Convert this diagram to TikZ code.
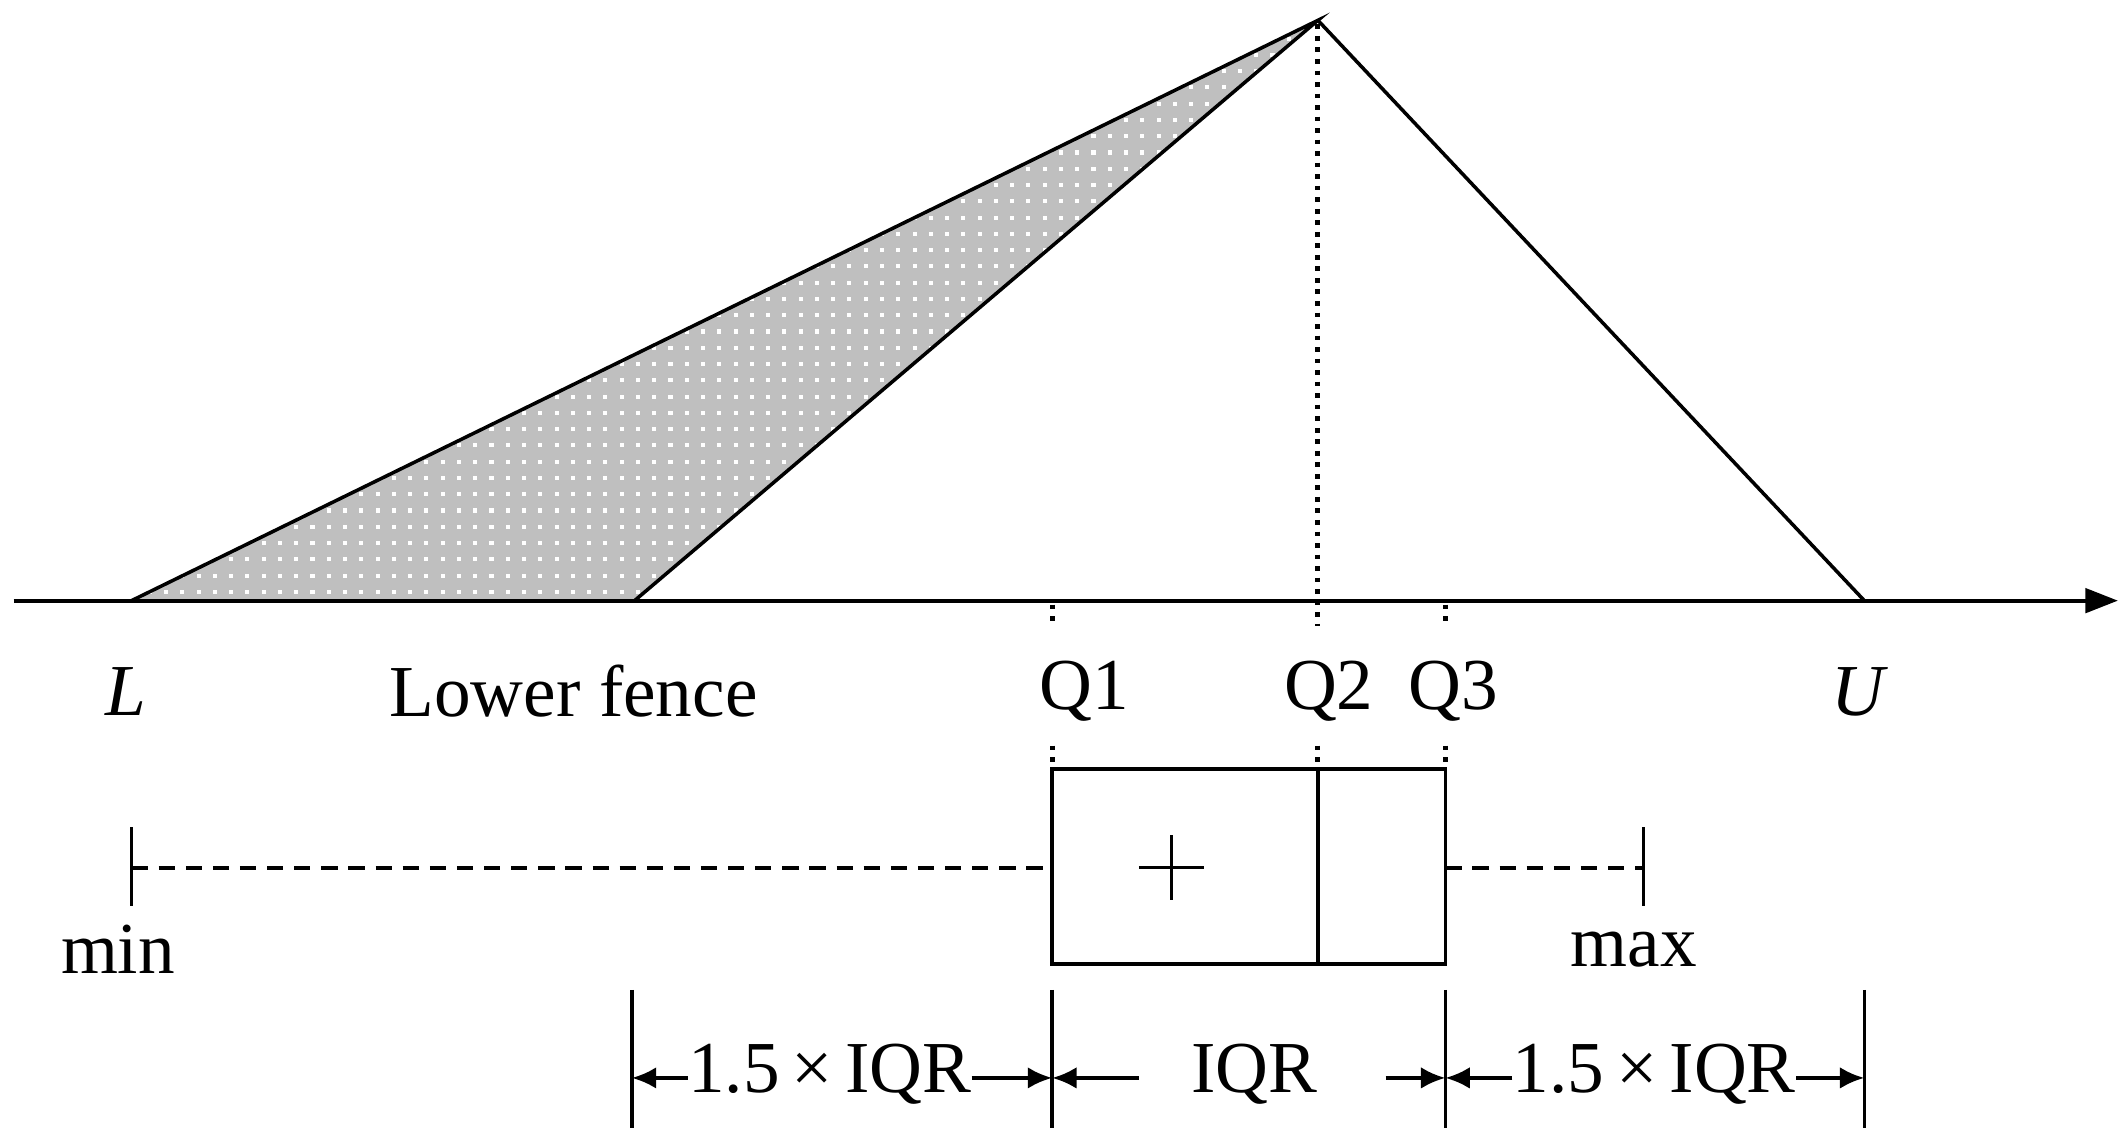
\documentclass[tikz,border=0pt]{standalone}
\usepackage{fontspec}
\setmainfont{Liberation Serif}
\usetikzlibrary{arrows.meta}
\begin{document}
\begin{tikzpicture}[x=1pt,y=-1pt,
  ln/.style={line width=2.6pt},
  lbl/.style={font=\fontsize{54}{58}\selectfont, inner sep=0pt},
  dimarr/.style={line width=2.8pt,-{Latex[length=18pt,width=16pt]}},
  dots/.style={line width=3.6pt,dash pattern=on 3.5pt off 5pt}]
\useasboundingbox (0,0) rectangle (1568,845);
\coordinate (L) at (97,443); \coordinate (F) at (468,443);
\coordinate (P) at (972,15); \coordinate (U) at (1375,443);
\begin{scope}
\clip (L)--(P)--(F)--cycle;
\fill[gray!50] (L)--(P)--(F)--cycle;
\foreach \i in {0,...,74} \foreach \j in {0,...,36}
  \fill[white] (97+\i*12,15+\j*12) rectangle ++(3,3);
\end{scope}
\draw[ln] (L)--(P)--(F); \draw[ln] (P)--(U);
\coordinate (A0) at (10,443); \coordinate (A1) at (1562,443);
\draw[line width=2.8pt,-{Triangle[length=24pt,width=18pt]}] (A0)--(A1);
\draw[dots] (972,18)--(972,462);
\draw[dots] (776,446)--(776,462); \draw[dots] (1066,446)--(1066,462);
\foreach \x in {776,972,1066} \draw[dots] (\x,550)--(\x,565);
\node[lbl] (tL) at (93,510) {\itshape L};
\node[lbl] (tF) at (423,510) {Lower fence};
\node[lbl] (t1) at (800,510) {Q1};
\node[lbl] (t2) at (980,510) {Q2};
\node[lbl] (t3) at (1072,510) {Q3};
\node[lbl] (tU) at (1370,510) {\itshape U};
\draw[ln] (776,567) rectangle (1066,711);
\draw[ln] (972,567)--(972,711);
\draw[line width=2.4pt] (840,640)--(888,640) (864,616)--(864,664);
\draw[ln,dash pattern=on 12pt off 8pt] (97,640)--(776,640);
\draw[ln,dash pattern=on 12pt off 8pt] (1066,640)--(1212,640);
\draw[ln] (97,610)--(97,668); \draw[ln] (1212,610)--(1212,668);
\node[lbl] (mn) at (87,700) {min};
\node[lbl] (mx) at (1205,700) {max};
\foreach \x in {466,776,1066,1375} \draw[ln] (\x,730)--(\x,832);
\node[lbl] (d1) at (612,792) {1.5\,×\,IQR};
\node[lbl] (d2) at (925,792) {IQR};
\node[lbl] (d3) at (1220,792) {1.5\,×\,IQR};
\draw[dimarr] (d1.west|-0,795)--(466,795);
\draw[dimarr] (d1.east|-0,795)--(776,795);
\draw[dimarr] (840,795)--(776,795);
\draw[dimarr] (1022,795)--(1066,795);
\draw[dimarr] (d3.west|-0,795)--(1066,795);
\draw[dimarr] (d3.east|-0,795)--(1375,795);
\end{tikzpicture}
\end{document}
